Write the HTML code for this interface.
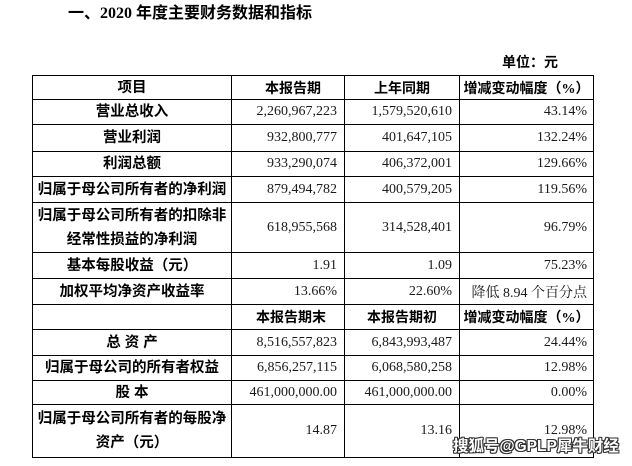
<!DOCTYPE html>
<html><head><meta charset="utf-8">
<style>
html,body{margin:0;padding:0;background:#fff;}
body{width:632px;height:466px;position:relative;overflow:hidden;}
.t{position:absolute;white-space:nowrap;}
.h{position:absolute;height:1px;background:#000;left:32px;width:562px;}
.v{position:absolute;width:1px;background:#000;top:75px;height:383px;}
.c{position:absolute;display:flex;align-items:center;box-sizing:border-box;white-space:nowrap;}
.lab{justify-content:center;text-align:center;font-family:"Liberation Sans","Noto Sans CJK SC",sans-serif;font-weight:700;font-size:14.5px;color:#000;line-height:24px;}
.hd{justify-content:center;font-family:"Liberation Serif","Noto Sans CJK SC",sans-serif;font-weight:700;font-size:14px;color:#000;}
.num{justify-content:flex-end;padding-right:7px;font-family:"Liberation Serif","Noto Serif CJK SC",serif;font-size:14px;color:#1a1a1a;}
.pct{justify-content:flex-end;padding-right:6px;font-family:"Liberation Serif","Noto Serif CJK SC",serif;font-size:14px;color:#1a1a1a;}
</style></head><body>

<div class="t" style="left:68px;top:4px;font-family:'Liberation Serif','Noto Sans CJK SC',sans-serif;font-weight:700;font-size:16px;line-height:20px;">一、2020 年度主要财务数据和指标</div>
<div class="t" style="left:502px;top:54px;font-family:'Liberation Sans','Noto Sans CJK SC',sans-serif;font-weight:700;font-size:14px;line-height:16px;">单位：元</div>

<!-- horizontal lines -->
<div class="h" style="top:75px"></div>
<div class="h" style="top:99px"></div>
<div class="h" style="top:124px"></div>
<div class="h" style="top:151px"></div>
<div class="h" style="top:176px"></div>
<div class="h" style="top:202px"></div>
<div class="h" style="top:252px"></div>
<div class="h" style="top:278px"></div>
<div class="h" style="top:304px"></div>
<div class="h" style="top:329px"></div>
<div class="h" style="top:355px"></div>
<div class="h" style="top:380px"></div>
<div class="h" style="top:404px"></div>
<div class="h" style="top:457px"></div>
<!-- vertical lines -->
<div class="v" style="left:32px"></div>
<div class="v" style="left:231px"></div>
<div class="v" style="left:344px"></div>
<div class="v" style="left:459px"></div>
<div class="v" style="left:593px"></div>

<!-- Row 1 header -->
<div class="c lab" style="left:33px;width:198px;top:76px;height:23px;">项目</div>
<div class="c hd" style="left:232px;width:112px;top:76px;height:23px;padding-left:10px;">本报告期</div>
<div class="c hd" style="left:345px;width:114px;top:76px;height:23px;">上年同期</div>
<div class="c hd" style="left:460px;width:133px;top:76px;height:23px;">增减变动幅度（%）</div>

<!-- Row 2 -->
<div class="c lab" style="left:33px;width:198px;top:100px;height:24px;">营业总收入</div>
<div class="c num" style="left:232px;width:112px;top:100px;height:24px;">2,260,967,223</div>
<div class="c num" style="left:345px;width:114px;top:100px;height:24px;">1,579,520,610</div>
<div class="c pct" style="left:460px;width:133px;top:100px;height:24px;">43.14%</div>

<!-- Row 3 -->
<div class="c lab" style="left:33px;width:198px;top:125px;height:26px;">营业利润</div>
<div class="c num" style="left:232px;width:112px;top:125px;height:26px;">932,800,777</div>
<div class="c num" style="left:345px;width:114px;top:125px;height:26px;">401,647,105</div>
<div class="c pct" style="left:460px;width:133px;top:125px;height:26px;">132.24%</div>

<!-- Row 4 -->
<div class="c lab" style="left:33px;width:198px;top:152px;height:24px;">利润总额</div>
<div class="c num" style="left:232px;width:112px;top:152px;height:24px;">933,290,074</div>
<div class="c num" style="left:345px;width:114px;top:152px;height:24px;">406,372,001</div>
<div class="c pct" style="left:460px;width:133px;top:152px;height:24px;">129.66%</div>

<!-- Row 5 -->
<div class="c lab" style="left:33px;width:198px;top:177px;height:25px;">归属于母公司所有者的净利润</div>
<div class="c num" style="left:232px;width:112px;top:177px;height:25px;">879,494,782</div>
<div class="c num" style="left:345px;width:114px;top:177px;height:25px;">400,579,205</div>
<div class="c pct" style="left:460px;width:133px;top:177px;height:25px;">119.56%</div>

<!-- Row 6 -->
<div class="c lab" style="left:33px;width:198px;top:203px;height:49px;">归属于母公司所有者的扣除非<br>经常性损益的净利润</div>
<div class="c num" style="left:232px;width:112px;top:203px;height:49px;">618,955,568</div>
<div class="c num" style="left:345px;width:114px;top:203px;height:49px;">314,528,401</div>
<div class="c pct" style="left:460px;width:133px;top:203px;height:49px;">96.79%</div>

<!-- Row 7 -->
<div class="c lab" style="left:33px;width:198px;top:253px;height:25px;">基本每股收益（元）</div>
<div class="c num" style="left:232px;width:112px;top:253px;height:25px;">1.91</div>
<div class="c num" style="left:345px;width:114px;top:253px;height:25px;">1.09</div>
<div class="c pct" style="left:460px;width:133px;top:253px;height:25px;">75.23%</div>

<!-- Row 8 -->
<div class="c lab" style="left:33px;width:198px;top:279px;height:25px;">加权平均净资产收益率</div>
<div class="c num" style="left:232px;width:112px;top:279px;height:25px;">13.66%</div>
<div class="c num" style="left:345px;width:114px;top:279px;height:25px;">22.60%</div>
<div class="c pct" style="left:460px;width:133px;top:279px;height:25px;">降低 8.94 个百分点</div>

<!-- Row 9 header 2 -->
<div class="c hd" style="left:232px;width:112px;top:305px;height:24px;padding-left:6px;">本报告期末</div>
<div class="c hd" style="left:345px;width:114px;top:305px;height:24px;">本报告期初</div>
<div class="c hd" style="left:460px;width:133px;top:305px;height:24px;">增减变动幅度（%）</div>

<!-- Row 10 -->
<div class="c lab" style="left:33px;width:198px;top:330px;height:25px;">总&nbsp;资&nbsp;产</div>
<div class="c num" style="left:232px;width:112px;top:330px;height:25px;">8,516,557,823</div>
<div class="c num" style="left:345px;width:114px;top:330px;height:25px;">6,843,993,487</div>
<div class="c pct" style="left:460px;width:133px;top:330px;height:25px;">24.44%</div>

<!-- Row 11 -->
<div class="c lab" style="left:33px;width:198px;top:356px;height:24px;">归属于母公司的所有者权益</div>
<div class="c num" style="left:232px;width:112px;top:356px;height:24px;">6,856,257,115</div>
<div class="c num" style="left:345px;width:114px;top:356px;height:24px;">6,068,580,258</div>
<div class="c pct" style="left:460px;width:133px;top:356px;height:24px;">12.98%</div>

<!-- Row 12 -->
<div class="c lab" style="left:33px;width:198px;top:381px;height:23px;">股&nbsp;本</div>
<div class="c num" style="left:232px;width:112px;top:381px;height:23px;">461,000,000.00</div>
<div class="c num" style="left:345px;width:114px;top:381px;height:23px;">461,000,000.00</div>
<div class="c pct" style="left:460px;width:133px;top:381px;height:23px;">0.00%</div>

<!-- Row 13 -->
<div class="c lab" style="left:33px;width:198px;top:405px;height:52px;">归属于母公司所有者的每股净<br>资产（元）</div>
<div class="c num" style="left:232px;width:112px;top:405px;height:52px;">14.87</div>
<div class="c num" style="left:345px;width:114px;top:405px;height:52px;">13.16</div>
<div class="c pct" style="left:460px;width:133px;top:405px;height:52px;">12.98%</div>

<!-- watermark -->
<div class="t" style="left:453px;top:437px;font-family:'Liberation Sans','Noto Sans CJK SC',sans-serif;font-weight:700;font-size:15.5px;line-height:20px;color:#fff;text-shadow:1px 0 0 #333,-1px 0 0 #333,0 1px 0 #333,0 -1px 0 #333,1px 1px 0 #333,-1px -1px 0 #333,1px -1px 0 #333,-1px 1px 0 #333;">搜狐号@GPLP犀牛财经</div>

</body></html>
